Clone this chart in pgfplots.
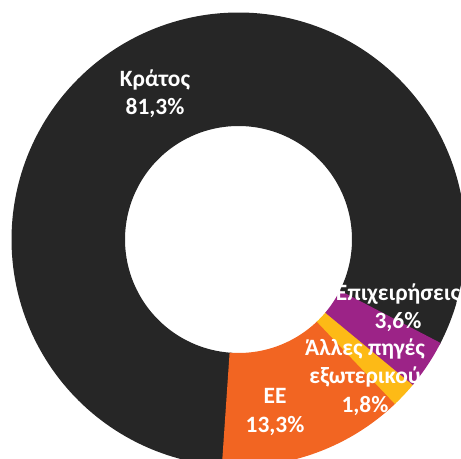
\documentclass[border=0pt]{standalone}
\usepackage{pgfplots}
\pgfplotsset{compat=1.18}
\usepackage{fontspec}
\setmainfont{Carlito}[BoldFont={Carlito Bold}]
\definecolor{cKratos}{HTML}{262626}
\definecolor{cEE}{HTML}{F26522}
\definecolor{cAlles}{HTML}{FDBA16}
\definecolor{cEpix}{HTML}{9C2387}
% shares in percent
\def\sKratos{81.3}
\def\sEpix{3.6}
\def\sAlles{1.8}
\def\sEE{13.3}
\def\startangle{265.7}
\pgfmathsetmacro\aA{\startangle}
\pgfmathsetmacro\aB{\aA-3.6*\sKratos}
\pgfmathsetmacro\aC{\aB-3.6*\sEpix}
\pgfmathsetmacro\aD{\aC-3.6*\sAlles}
\pgfmathsetmacro\aE{\aD-3.6*\sEE}
\begin{document}
\begin{tikzpicture}
\useasboundingbox (0,0) rectangle (461bp,459bp);
\begin{axis}[
  at={(0,0)}, anchor=south west,
  scale only axis, width=461bp, height=459bp,
  xmin=0, xmax=461, ymin=0, ymax=459,
  hide axis, clip=true,
  every axis plot/.append style={line cap=butt, line width=113.5bp, mark=none, samples=200},
]
\addplot[cKratos, domain=\aB-1:\aA+1] ({238.5+170.25*cos(x)},{219.5+170.25*sin(x)});
\addplot[cEE, domain=\aE:\aD+0.3, samples=60] ({238.5+170.25*cos(x)},{219.5+170.25*sin(x)});
\addplot[cAlles, domain=\aD:\aC+0.3, samples=30] ({238.5+170.25*cos(x)},{219.5+170.25*sin(x)});
\addplot[cEpix, domain=\aC:\aB, samples=30] ({238.5+170.25*cos(x)},{219.5+170.25*sin(x)});
\begin{scope}[every node/.style={text=white, align=center, font=\fontsize{23.5}{28.5}\selectfont\bfseries, inner sep=0pt}]
\node at (axis cs:155,365) {Κράτος\\81,3\%};
\node at (axis cs:275,47) {ΕΕ\\13,3\%};
\node at (axis cs:365,82) {Άλλες πηγές\\εξωτερικού\\1,8\%};
\node at (axis cs:398,151) {Επιχειρήσεις\\3,6\%};
\end{scope}
\end{axis}
\end{tikzpicture}
\end{document}
